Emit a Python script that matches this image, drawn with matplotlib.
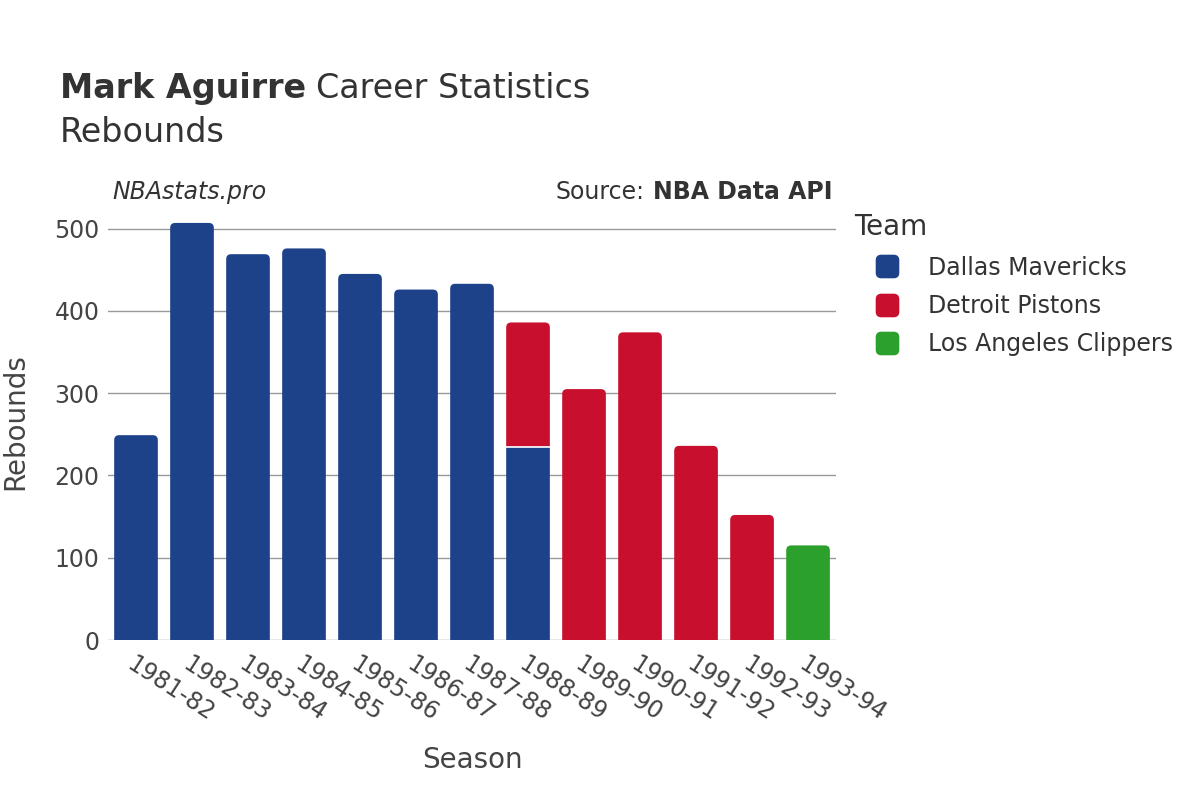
import matplotlib
matplotlib.use("Agg")
import matplotlib.pyplot as plt
from matplotlib.patches import PathPatch
from matplotlib.path import Path
from matplotlib.lines import Line2D

plt.rcParams["font.family"] = ["DejaVu Sans"]

# ---------------------------------------------------------------------------
# Data
# ---------------------------------------------------------------------------
seasons = ["1981-82", "1982-83", "1983-84", "1984-85", "1985-86", "1986-87",
           "1987-88", "1988-89", "1989-90", "1990-91", "1991-92", "1992-93",
           "1993-94"]
dallas = [249, 507, 469, 476, 445, 426, 433, 235, 0, 0, 0, 0, 0]
detroit = [0, 0, 0, 0, 0, 0, 0, 151, 305, 374, 236, 152, 0]
clippers = [0, 0, 0, 0, 0, 0, 0, 0, 0, 0, 0, 0, 115]

teams = ["Dallas Mavericks", "Detroit Pistons", "Los Angeles Clippers"]
team_colors = ["#1d428a", "#c8102e", "#2ca02c"]

TEXT = "#333333"
BAR_W = 0.78
YMAX = 530


def rounded_path(x0, y0, w, h, rx, ry, bottom=False):
    """Rectangle path with rounded top corners (and optionally bottom ones)."""
    ry = min(ry, h)
    C3, L = Path.CURVE3, Path.LINETO
    if bottom:
        verts = [(x0 + rx, y0), (x0 + w - rx, y0), (x0 + w, y0), (x0 + w, y0 + ry)]
        codes = [Path.MOVETO, L, C3, C3]
    else:
        verts = [(x0, y0), (x0 + w, y0)]
        codes = [Path.MOVETO, L]
    verts += [(x0 + w, y0 + h - ry), (x0 + w, y0 + h), (x0 + w - rx, y0 + h),
              (x0 + rx, y0 + h), (x0, y0 + h), (x0, y0 + h - ry)]
    codes += [L, C3, C3, L, C3, C3]
    if bottom:
        verts += [(x0, y0 + ry), (x0, y0), (x0 + rx, y0), (x0 + rx, y0)]
        codes += [L, C3, C3, Path.CLOSEPOLY]
    else:
        verts += [(x0, y0), (x0, y0)]
        codes += [L, Path.CLOSEPOLY]
    return Path(verts, codes)


fig = plt.figure(figsize=(12, 8), dpi=100)
ax = fig.add_axes([0.09, 0.2, 0.6067, 0.545])

x = list(range(len(seasons)))

# pixels per data unit, for circular corners
px_x = 0.6067 * 1200 / len(seasons)
px_y = 0.545 * 800 / YMAX
RX, RY = 5 / px_x, 5 / px_y

bottoms = [0] * len(seasons)
series = [dallas, detroit, clippers]
for i, (vals, col) in enumerate(zip(series, team_colors)):
    cont = ax.bar(x, vals, width=BAR_W, bottom=bottoms, color=col)
    for j, p in enumerate(cont.patches):
        h = p.get_height()
        x0, y0, w = p.get_x(), p.get_y(), p.get_width()
        p.remove()
        if h <= 0:
            continue
        on_top = sum(s[j] for s in series[i + 1:]) == 0
        if on_top:
            path = rounded_path(x0, y0, w, h, RX, RY)
        else:
            path = rounded_path(x0, y0, w, h, 0, 0)
        ax.add_patch(PathPatch(path, fc=col, ec="none", zorder=3))
        if y0 > 0:
            ax.plot([x0, x0 + w], [y0, y0], color="white", lw=1.2, zorder=4)
    bottoms = [b + v for b, v in zip(bottoms, vals)]

ax.set_xlim(-0.5, len(seasons) - 0.5)
ax.set_ylim(0, YMAX)
ax.set_yticks([0, 100, 200, 300, 400, 500])
ax.yaxis.grid(True, color="#999999", lw=1, zorder=0)
ax.set_axisbelow(True)
for s in ax.spines.values():
    s.set_visible(False)
ax.axhline(0, color="#dddddd", lw=1, zorder=1)
ax.tick_params(axis="both", length=0, labelsize=17, labelcolor="#444444", pad=6)
ax.set_xticks(x)
ax.set_xticklabels(seasons, rotation=-33, ha="left", va="top", rotation_mode="anchor")
ax.tick_params(axis="x", pad=9)

ax.set_ylabel("Rebounds", fontsize=20, color="#444444", labelpad=18)
ax.set_xlabel("Season", fontsize=20, color="#444444", labelpad=14)

# titles
renderer = fig.canvas.get_renderer()
t1 = fig.text(0.05, 0.889, "Mark Aguirre", fontsize=24, fontweight="bold", color=TEXT,
              va="center", ha="left")
bb = t1.get_window_extent(renderer)
fig.text(bb.x1 / 1200 + 0.008, 0.889, "Career Statistics", fontsize=24, color=TEXT,
         va="center", ha="left")
fig.text(0.05, 0.835, "Rebounds", fontsize=24, color=TEXT, va="center", ha="left")

fig.text(0.094, 0.76, "NBAstats.pro", fontsize=17, style="italic", color=TEXT, va="center")
s2 = fig.text(0.6935, 0.76, "NBA Data API", fontsize=17, fontweight="bold", color=TEXT,
              va="center", ha="right")
bb = s2.get_window_extent(renderer)
fig.text(bb.x0 / 1200 - 0.007, 0.76, "Source:", fontsize=17, color=TEXT,
         va="center", ha="right")

# legend with rounded square markers
sq = rounded_path(-0.5, -0.5, 1, 1, 0.22, 0.22, bottom=True)
handles = [Line2D([0], [0], marker=sq, ls="none", markersize=16,
                  markerfacecolor=c, markeredgecolor=c) for c in team_colors]
leg = fig.legend(handles, teams, loc="upper left", bbox_to_anchor=(0.7035, 0.745),
                 frameon=False, fontsize=17, title="Team", title_fontsize=20,
                 labelcolor=TEXT, handlelength=2.8, handletextpad=0.35,
                 labelspacing=0.6, borderaxespad=0)
leg.get_title().set_color(TEXT)
leg._legend_box.align = "left"

fig.savefig("out.png", dpi=100, facecolor="white")
